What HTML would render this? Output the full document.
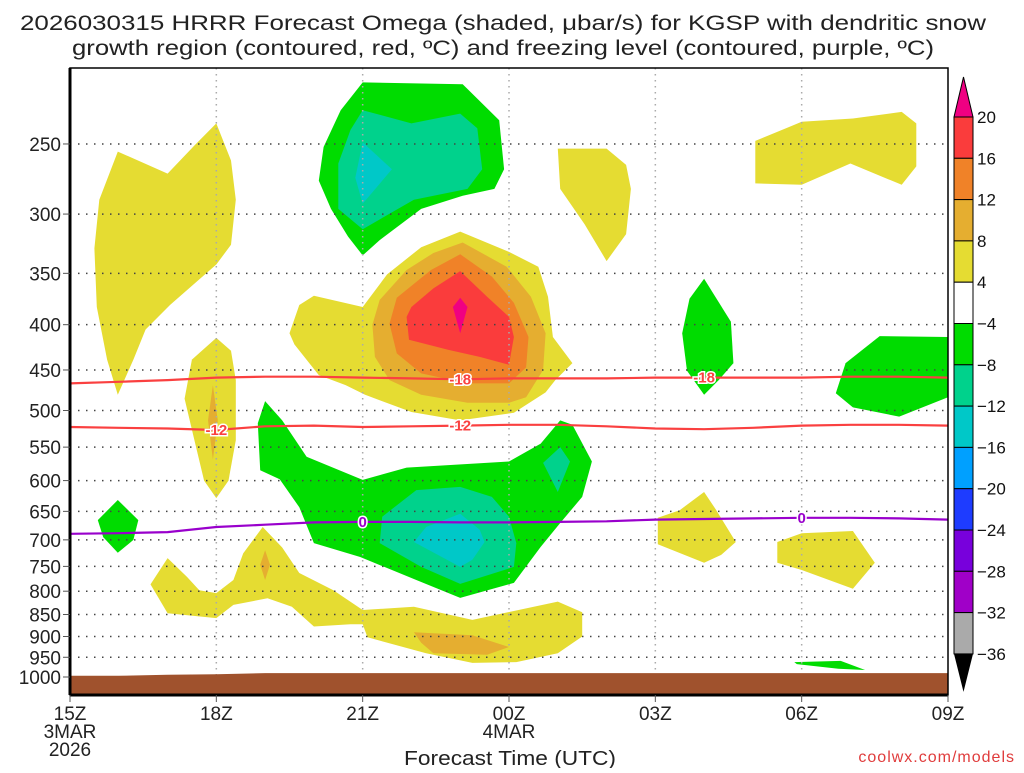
<!DOCTYPE html>
<html><head><meta charset="utf-8"><style>
body{margin:0;background:#fff}
svg text{font-family:"Liberation Sans",sans-serif}
</style></head><body>
<svg id="chart" width="1024" height="768" xmlns="http://www.w3.org/2000/svg">
<g id="title">
<text x="503" y="30" font-size="21" text-anchor="middle" textLength="966" lengthAdjust="spacingAndGlyphs" fill="#222">2026030315 HRRR Forecast Omega (shaded, μbar/s) for KGSP with dendritic snow</text>
<text x="503" y="55" font-size="21" text-anchor="middle" textLength="862" lengthAdjust="spacingAndGlyphs" fill="#222">growth region (contoured, red, ºC) and freezing level (contoured, purple, ºC)</text>
</g>
<g id="fills"></g>
<g id="grid"></g>
<g id="ground"></g>
<g id="contours"></g>
<g id="axes"></g>
<g id="cbar"></g>
<text x="510" y="765" font-size="20" text-anchor="middle" textLength="212" lengthAdjust="spacingAndGlyphs" fill="#222">Forecast Time (UTC)</text>
<text x="1015" y="762" font-size="16" fill="#e03c3c" text-anchor="end" letter-spacing="1">coolwx.com/models</text>
</svg>
<script>
// ---- data ----
const xTickLabels = ["15Z","18Z","21Z","00Z","03Z","06Z","09Z"];
const xTickHours = [0,3,6,9,12,15,18];
const yTickLabels = [250,300,350,400,450,500,550,600,650,700,750,800,850,900,950,1000];
const cbarLevels = [20,16,12,8,4,-4,-8,-12,-16,-20,-24,-28,-32,-36];
const cbarColors = ["#fa3c3c","#f08228","#e5ae30","#e5dc32","#ffffff","#00dc00","#00d28c","#00c8c8","#00a0ff","#1e3cff","#7800dc","#a000c8","#aaaaaa"];
const contourHours = [0,1,2,3,4,5,6,7,8,9,10,11,12,13,14,15,16,17,18];
const isoMinus18 = [466,464,462,459,458,458,459,460,461,460,460,460,459,459,459,459,458,458,459];
const isoMinus12 = [522,523,524,526,521,520,522,521,520,519,519,521,524,525,523,520,519,519,520];
const isoZero = [689,688,686,677,673,669,668,668,669,669,668,667,664,663,662,661,661,662,664];
const groundPressure = [997,997,994,993,990,990,990,990,990,990,990,990,990,990,990,990,990,990,990];
// omega blobs: [hour, pressure]
const yelLeft = [[0.98,255],[2.0,270],[2.55,251],[3.0,237],[3.3,261],[3.4,289],[3.3,325],[3.0,342],[2.05,380],[1.55,405],[1.3,438],[0.98,480],[0.76,438],[0.55,382],[0.5,328],[0.6,289]];
const yel18z = [[3.0,414],[3.3,428],[3.4,462],[3.4,540],[3.25,600],[3.0,628],[2.75,600],[2.55,540],[2.35,485],[2.5,438]];
const org18z = [[2.93,468],[3.03,513],[2.93,568],[2.83,513]];
const grnTop = [[6.0,213],[8.05,214],[8.8,235],[8.9,267],[8.7,281],[8.05,286],[7.2,296],[6.35,321],[6.0,334],[5.7,318],[5.35,296],[5.1,275],[5.2,252],[5.55,229]];
const tealTop = [[6.0,229],[7.0,237],[8.0,231],[8.35,240],[8.45,267],[8.15,281],[7.05,289],[6.0,312],[5.5,296],[5.5,263],[5.75,241]];
const cyanTop = [[6.0,249],[6.6,267],[6.0,292],[5.85,273]];
const yelUpper = [[10.0,253],[11.0,253],[11.4,264],[11.5,281],[11.4,316],[11.0,339],[10.55,308],[10.05,281]];
const yelCore = [[4.5,409],[4.7,380],[5.0,371],[6.0,382],[6.5,351],[7.2,327],[8.0,314],[9.0,331],[9.6,344],[9.8,372],[9.9,413],[10.3,442],[9.95,462],[9.75,477],[9.1,503],[8.0,513],[7.0,502],[6.05,480],[5.65,468],[5.1,456],[4.6,421]];
const lorCore = [[8.05,323],[8.95,344],[9.45,372],[9.75,409],[9.7,450],[9.35,483],[9.0,490],[8.15,490],[7.2,480],[6.55,462],[6.25,435],[6.2,400],[6.35,375],[6.9,347],[7.45,332]];
const orgCore = [[8.0,333],[8.65,353],[9.1,378],[9.4,413],[9.35,447],[9.0,466],[8.15,466],[7.2,454],[6.7,431],[6.55,399],[6.7,373],[7.4,347]];
const redCore = [[8.0,348],[8.55,372],[9.0,392],[9.1,413],[9.0,444],[8.4,435],[7.75,427],[6.95,416],[6.9,392],[7.0,382],[7.45,364]];
const magCore = [[8.0,373],[8.15,382],[8.0,409],[7.85,382]];
const grnLow = [[4.0,488],[4.35,513],[4.85,564],[6.0,599],[6.9,580],[9.0,571],[9.65,545],[10.05,513],[10.3,519],[10.7,571],[10.5,626],[10.05,670],[9.65,713],[9.1,783],[8.0,814],[7.1,777],[5.95,732],[5.0,706],[4.7,643],[4.3,598],[3.9,584],[3.85,517]];
const tealLow = [[7.1,615],[8.0,610],[8.65,626],[9.0,659],[9.15,706],[9.1,751],[8.0,785],[7.2,751],[6.35,706],[6.4,659]];
const cyanLow = [[8.0,654],[8.4,682],[8.5,704],[8.25,737],[8.0,751],[7.05,704],[7.3,677]];
const tealSmall = [[10.05,550],[10.25,571],[10.0,618],[9.7,573]];
const yelLow = [[2.0,734],[2.4,771],[2.65,798],[3.0,804],[3.35,777],[3.55,725],[3.95,677],[4.35,714],[4.7,763],[5.4,798],[6.0,840],[7.05,833],[8.25,862],[10.0,822],[10.5,845],[10.5,900],[10.0,940],[9.15,962],[8.25,964],[7.3,940],[6.1,902],[6.0,872],[5.75,872],[5.0,877],[4.55,833],[4.05,815],[3.35,829],[3.0,858],[2.0,847],[1.65,786]];
const orgLowA = [[4.0,719],[4.1,747],[4.0,777],[3.9,747]];
const orgLowB = [[7.05,890],[8.25,897],[9.0,925],[8.55,944],[7.45,940],[7.2,915]];
const grnDiamond = [[0.98,631],[1.4,665],[1.3,700],[0.98,724],[0.68,695],[0.57,665]];
const yelTopRight = [[14.05,248],[15.0,236],[16.05,234],[17.05,230],[17.35,237],[17.35,265],[17.05,278],[16.0,263],[15.0,278],[14.05,277]];
const grnLeaf = [[13.0,355],[13.55,397],[13.6,442],[13.3,462],[13.0,480],[12.65,451],[12.55,409],[12.7,374]];
const grnRight = [[15.9,442],[16.6,412],[18.0,413],[18.0,483],[17.0,508],[16.05,496],[15.7,478]];
const yelMidA = [[13.0,618],[13.25,648],[13.65,704],[13.35,728],[13.0,743],[12.05,708],[12.05,661],[12.5,648]];
const yelMidB = [[14.5,704],[15.0,688],[16.05,684],[16.5,743],[16.05,795],[15.0,757],[14.5,743]];
const grnSliver = [[14.85,962],[15.8,959],[16.3,982],[15.75,979],[14.9,967]];

// ---- axes ----
const X0=70,X1=948,Y1000=677,PX=384.5;
const x=h=>X0+(X1-X0)*h/18;
const y=p=>Y1000-(Math.log(1000)-Math.log(p))*PX;
const YT=68,YB=695;
const NS="http://www.w3.org/2000/svg";
function mk(tag,parent){const e=document.createElementNS(NS,tag);parent.appendChild(e);return e;}

const fills=document.getElementById('fills');
function blob(pts,color,name){
  const e=mk('polygon',fills);
  e.setAttribute('points',pts.map(d=>x(d[0]).toFixed(1)+','+y(d[1]).toFixed(1)).join(' '));
  e.setAttribute('fill',color);
  
  
}
const Y="#e5dc32",LO="#e5ae30",O="#f08228",R="#fa3c3c",M="#f00082",G="#00dc00",T="#00d28c",C="#00c8c8";
blob(yelLeft,Y,'omega-left-positive');
blob(yel18z,Y,'omega-18z-positive');
blob(org18z,LO,'omega-18z-core');
blob(grnTop,G,'omega-upper-negative');
blob(tealTop,T,'omega-upper-negative-mid');
blob(cyanTop,C,'omega-upper-negative-core');
blob(yelUpper,Y,'omega-upper-positive');
blob(yelCore,Y,'omega-core-4');
blob(lorCore,LO,'omega-core-8');
blob(orgCore,O,'omega-core-12');
blob(redCore,R,'omega-core-16');
blob(magCore,M,'omega-core-20');
blob(grnLow,G,'omega-lower-negative');
blob(tealLow,T,'omega-lower-negative-mid');
blob(cyanLow,C,'omega-lower-negative-core');
blob(tealSmall,T,'omega-lower-negative-small');
blob(yelLow,Y,'omega-lower-positive');
blob(orgLowA,LO,'omega-lower-positive-core-a');
blob(orgLowB,LO,'omega-lower-positive-core-b');
blob(grnDiamond,G,'omega-left-negative');
blob(yelTopRight,Y,'omega-topright-positive');
blob(grnLeaf,G,'omega-04z-negative');
blob(grnRight,G,'omega-right-negative');
blob(yelMidA,Y,'omega-03z-positive');
blob(yelMidB,Y,'omega-06z-positive');
blob(grnSliver,G,'omega-surface-negative');

// grid
const grid=document.getElementById('grid');
yTickLabels.forEach(p=>{
  const l=mk('line',grid);
  l.setAttribute('x1',X0);l.setAttribute('x2',X1);l.setAttribute('y1',y(p));l.setAttribute('y2',y(p));
  l.setAttribute('stroke','#444');l.setAttribute('stroke-width','1.5');l.setAttribute('stroke-dasharray','1.5 6.5');
  
  
});
xTickHours.slice(1,-1).forEach(h=>{
  const l=mk('line',grid);
  l.setAttribute('x1',x(h));l.setAttribute('x2',x(h));l.setAttribute('y1',YT);l.setAttribute('y2',YB);
  l.setAttribute('stroke','#aaa');l.setAttribute('stroke-width','1.5');l.setAttribute('stroke-dasharray','1.5 4.5');
  
  
});

// ground
const gd=document.getElementById('ground');
const gp=mk('polygon',gd);
gp.setAttribute('points',contourHours.map((h,i)=>x(h)+','+y(groundPressure[i]).toFixed(1)).join(' ')+' '+X1+','+YB+' '+X0+','+YB);
gp.setAttribute('fill','#a0522d');



// contours
const cg=document.getElementById('contours');
function iso(vals,color,name,labels,txt){
  const l=mk('polyline',cg);
  l.setAttribute('points',contourHours.map((h,i)=>x(h).toFixed(1)+','+y(vals[i]).toFixed(1)).join(' '));
  l.setAttribute('fill','none');l.setAttribute('stroke',color);l.setAttribute('stroke-width','2.2');
  
  
  labels.forEach(h=>{
    const i=Math.round(h);const yy=y(vals[i]);
    const t=mk('text',cg);t.setAttribute('x',x(h));t.setAttribute('y',yy+5);t.setAttribute('fill',color);t.setAttribute('font-size','15');t.setAttribute('font-weight','bold');t.setAttribute('text-anchor','middle');
    t.setAttribute('stroke','#fff');t.setAttribute('stroke-width','3');t.setAttribute('paint-order','stroke');
    t.textContent=txt;
    
    
  });
}
iso(isoMinus18,'#fa4040','isotherm-minus18',[8,13],'-18');
iso(isoMinus12,'#fa4040','isotherm-minus12',[3,8],'-12');
iso(isoZero,'#9900cc','freezing-level',[6,15],'0');

// axes
const ax=document.getElementById('axes');
const fr=mk('rect',ax);fr.setAttribute('x',X0);fr.setAttribute('y',YT);fr.setAttribute('width',X1-X0);fr.setAttribute('height',YB-YT);fr.setAttribute('fill','none');fr.setAttribute('stroke','#000');fr.setAttribute('stroke-width','1.5');


const la=mk('line',ax);la.setAttribute('x1',X0);la.setAttribute('x2',X0);la.setAttribute('y1',YT);la.setAttribute('y2',YB);la.setAttribute('stroke','#000');la.setAttribute('stroke-width','3');


const ba=mk('line',ax);ba.setAttribute('x1',X0);ba.setAttribute('x2',X1);ba.setAttribute('y1',YB);ba.setAttribute('y2',YB);ba.setAttribute('stroke','#000');ba.setAttribute('stroke-width','3');


yTickLabels.forEach(p=>{
  const t=mk('text',ax);t.setAttribute('x',61);t.setAttribute('y',y(p)+7);t.setAttribute('font-size','19');t.setAttribute('text-anchor','end');t.setAttribute('fill','#222');t.textContent=p;
  
  
  const k=mk('line',ax);k.setAttribute('x1',63);k.setAttribute('x2',X0);k.setAttribute('y1',y(p));k.setAttribute('y2',y(p));k.setAttribute('stroke','#555');
});
xTickLabels.forEach((s,i)=>{
  const t=mk('text',ax);t.setAttribute('x',x(xTickHours[i]));t.setAttribute('y',720);t.setAttribute('font-size','19');t.setAttribute('text-anchor','middle');t.setAttribute('fill','#222');t.textContent=s;
  
  
  const k=mk('line',ax);k.setAttribute('x1',x(xTickHours[i]));k.setAttribute('x2',x(xTickHours[i]));k.setAttribute('y1',YB);k.setAttribute('y2',702);k.setAttribute('stroke','#555');
});
[["3MAR",0,738],["2026",0,756],["4MAR",9,738]].forEach(d=>{
  const t=mk('text',ax);t.setAttribute('x',x(d[1]));t.setAttribute('y',d[2]);t.setAttribute('font-size','19');t.setAttribute('text-anchor','middle');t.setAttribute('fill','#222');t.textContent=d[0];
  
  
});

// colorbar
const cb=document.getElementById('cbar');
const CX=954,CW=19,CT=117,CH=41.3;
const tri1=mk('polygon',cb);tri1.setAttribute('points',`${CX},${CT} ${CX+CW},${CT} ${CX+CW/2},${CT-40}`);tri1.setAttribute('fill','#f00082');tri1.setAttribute('stroke','#000');


cbarColors.forEach((c,i)=>{
  const r=mk('rect',cb);r.setAttribute('x',CX);r.setAttribute('y',CT+i*CH);r.setAttribute('width',CW);r.setAttribute('height',CH);r.setAttribute('fill',c);r.setAttribute('stroke','#000');
  
  
});
const bot=CT+cbarColors.length*CH;
const tri2=mk('polygon',cb);tri2.setAttribute('points',`${CX},${bot} ${CX+CW},${bot} ${CX+CW/2},${bot+38}`);tri2.setAttribute('fill','#000');


cbarLevels.forEach((v,i)=>{
  const t=mk('text',cb);t.setAttribute('x',977);t.setAttribute('y',CT+i*CH+6);t.setAttribute('font-size','17');t.setAttribute('fill','#111');t.textContent=v<0?'−'+(-v):v;
  
  
});
</script>
</body></html>
